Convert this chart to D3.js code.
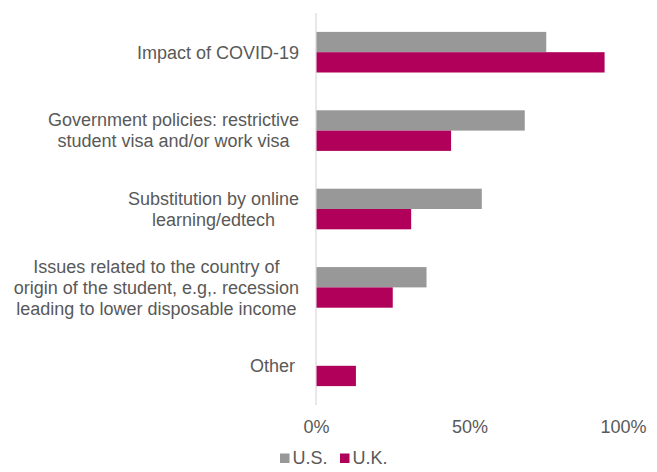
<!DOCTYPE html>
<html>
<head>
<meta charset="utf-8">
<script src="https://cdn.jsdelivr.net/npm/d3@7/dist/d3.min.js"></script>
<style>
  html, body { margin: 0; padding: 0; background: #ffffff; }
  svg { display: block; font-family: Arial, "Liberation Sans", sans-serif; }
</style>
</head>
<body>
<svg id="chart" width="657" height="472"></svg>
<script>
// Reasons for decline in international student numbers, share of respondents
const categories = [
  ["Impact of COVID-19"],
  ["Government policies: restrictive", "student visa and/or work visa"],
  ["Substitution by online", "learning/edtech"],
  ["Issues related to the country of", "origin of the student, e.g,. recession", "leading to lower disposable income"],
  ["Other"]
];
const seriesNames = ["U.S.", "U.K."];
const usValues = [75, 68, 54, 36, 0];
const ukValues = [94, 44, 31, 25, 13];
const tickValues = [0, 50, 100];
const tickLabels = ["0%", "50%", "100%"];
const colors = ["#989898", "#b0005a"];

const svg = d3.select("#chart");
const textColor = "#595959";
const fontSize = 18;

const x = d3.scaleLinear().domain([0, 100]).range([316, 623]);
const y = d3.scaleBand().domain(d3.range(categories.length)).range([13, 405]).paddingInner(0.482).paddingOuter(0.241);
const sub = d3.scaleBand().domain(seriesNames).range([0, y.bandwidth()]);

const rows = categories.map((lines, i) => ({ i, lines, values: [usValues[i], ukValues[i]] }));

// bars
const groups = svg.append("g").selectAll("g").data(rows).join("g")
  .attr("transform", d => `translate(0,${y(d.i)})`);
groups.selectAll("rect")
  .data(d => d.values.map((v, k) => ({ v, k })).filter(e => e.v > 0))
  .join("rect")
  .attr("x", x(0))
  .attr("y", e => sub(seriesNames[e.k]))
  .attr("width", e => x(e.v) - x(0))
  .attr("height", sub.bandwidth())
  .attr("fill", e => colors[e.k]);

// vertical axis line
svg.append("line")
  .attr("x1", x(0)).attr("x2", x(0))
  .attr("y1", 13).attr("y2", 405)
  .attr("stroke", "#d9d9d9").attr("stroke-width", 1.2);

// category labels: lines centred on each other, block right-aligned
const labelRight = 299;
const lineH = 21;
const labelG = svg.append("g").attr("font-size", fontSize).attr("fill", textColor);
rows.forEach(d => {
  const cy = y(d.i) + y.bandwidth() / 2;
  const t = labelG.append("text").attr("text-anchor", "middle");
  const spans = d.lines.map((s, j) => t.append("tspan").text(s));
  const widths = spans.map(sp => sp.node().getComputedTextLength());
  const maxW = d3.max(widths);
  const cx = labelRight - maxW / 2 - (d.lines.length === 1 && d.lines[0] === "Other" ? 4 : 0);
  const n = d.lines.length;
  spans.forEach((sp, j) => {
    sp.attr("x", cx).attr("y", cy + (j - (n - 1) / 2) * lineH).attr("dy", "0.35em");
  });
});

// x axis tick labels
const xAxis = d3.axisBottom(x).tickValues(tickValues)
  .tickFormat((v, i) => tickLabels[i]).tickSize(0).tickPadding(0);
const ax = svg.append("g").attr("transform", "translate(0,420)").call(xAxis);
ax.select(".domain").remove();
ax.selectAll("text").attr("font-size", fontSize).attr("fill", textColor)
  .attr("font-family", "Arial, 'Liberation Sans', sans-serif").attr("dy", "0.71em");

// legend
const legend = svg.append("g").attr("font-size", fontSize).attr("fill", textColor);
const legendX = [280, 340];
seriesNames.forEach((name, k) => {
  legend.append("rect").attr("x", legendX[k]).attr("y", 453.5).attr("width", 9.5).attr("height", 9.5).attr("fill", colors[k]);
  legend.append("text").attr("x", legendX[k] + 12.5).attr("y", 464).text(name);
});
</script>
</body>
</html>
